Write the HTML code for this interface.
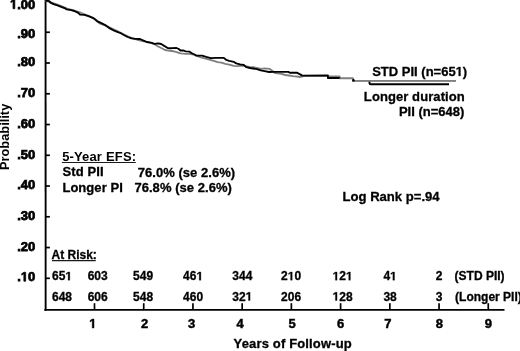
<!DOCTYPE html>
<html><head><meta charset="utf-8"><style>
html,body{margin:0;padding:0;background:#fff;}
body{width:520px;height:351px;overflow:hidden;position:relative;}
svg{position:absolute;left:0;top:0;will-change:transform;}
.s{font-family:"Liberation Sans",sans-serif;font-weight:bold;fill:#000;stroke:#000;stroke-width:0.3px;}
.yl{stroke-width:0.75px;}
.xl{stroke-width:0.45px;}
.pr{stroke-width:0;}
.r{font-family:"Liberation Sans",sans-serif;font-weight:normal;fill:#000;}
</style></head><body>
<svg width="520" height="351" viewBox="0 0 520 351">
<line x1="45.55" y1="0" x2="45.65" y2="310.8" stroke="#000" stroke-width="1.9"/>
<line x1="44.4" y1="309.85" x2="504.5" y2="309.85" stroke="#000" stroke-width="1.9"/>
<line x1="46" y1="32.25" x2="49.9" y2="32.25" stroke="#000" stroke-width="1.7"/>
<line x1="46" y1="63.01" x2="49.9" y2="63.01" stroke="#000" stroke-width="1.7"/>
<line x1="46" y1="93.77" x2="49.9" y2="93.77" stroke="#000" stroke-width="1.7"/>
<line x1="46" y1="124.52" x2="49.9" y2="124.52" stroke="#000" stroke-width="1.7"/>
<line x1="46" y1="155.28" x2="49.9" y2="155.28" stroke="#000" stroke-width="1.7"/>
<line x1="46" y1="186.03" x2="49.9" y2="186.03" stroke="#000" stroke-width="1.7"/>
<line x1="46" y1="216.78" x2="49.9" y2="216.78" stroke="#000" stroke-width="1.7"/>
<line x1="46" y1="247.54" x2="49.9" y2="247.54" stroke="#000" stroke-width="1.7"/>
<line x1="46" y1="278.30" x2="49.9" y2="278.30" stroke="#000" stroke-width="1.7"/>
<line x1="94.50" y1="303.2" x2="94.50" y2="309.5" stroke="#000" stroke-width="1.7"/>
<line x1="143.72" y1="303.2" x2="143.72" y2="309.5" stroke="#000" stroke-width="1.7"/>
<line x1="192.94" y1="303.2" x2="192.94" y2="309.5" stroke="#000" stroke-width="1.7"/>
<line x1="242.16" y1="303.2" x2="242.16" y2="309.5" stroke="#000" stroke-width="1.7"/>
<line x1="291.38" y1="303.2" x2="291.38" y2="309.5" stroke="#000" stroke-width="1.7"/>
<line x1="340.60" y1="303.2" x2="340.60" y2="309.5" stroke="#000" stroke-width="1.7"/>
<line x1="389.82" y1="303.2" x2="389.82" y2="309.5" stroke="#000" stroke-width="1.7"/>
<line x1="439.04" y1="303.2" x2="439.04" y2="309.5" stroke="#000" stroke-width="1.7"/>
<line x1="488.26" y1="303.2" x2="488.26" y2="309.5" stroke="#000" stroke-width="1.7"/>
<text class="s yl" x="35.3" y="8.7" font-size="13" text-anchor="end"> .00</text>
<text class="s yl" x="35.3" y="37.5" font-size="13" text-anchor="end">.90</text>
<text class="s yl" x="35.3" y="65.8" font-size="13" text-anchor="end">.80</text>
<text class="s yl" x="35.3" y="96.8" font-size="13" text-anchor="end">.70</text>
<text class="s yl" x="35.3" y="128.0" font-size="13" text-anchor="end">.60</text>
<text class="s yl" x="35.3" y="158.5" font-size="13" text-anchor="end">.50</text>
<text class="s yl" x="35.3" y="189.2" font-size="13" text-anchor="end">.40</text>
<text class="s yl" x="35.3" y="219.7" font-size="13" text-anchor="end">.30</text>
<text class="s yl" x="35.3" y="250.5" font-size="13" text-anchor="end">.20</text>
<text class="s yl" x="35.3" y="281.2" font-size="13" text-anchor="end">. 0</text>
<text class="s xl" x="92.8" y="328" font-size="13" text-anchor="middle"> </text>
<text class="s xl" x="144.6" y="328" font-size="13" text-anchor="middle">2</text>
<text class="s xl" x="191.7" y="328" font-size="13" text-anchor="middle">3</text>
<text class="s xl" x="240.1" y="328" font-size="13" text-anchor="middle">4</text>
<text class="s xl" x="292.2" y="328" font-size="13" text-anchor="middle">5</text>
<text class="s xl" x="340.6" y="328" font-size="13" text-anchor="middle">6</text>
<text class="s xl" x="387.9" y="328" font-size="13" text-anchor="middle">7</text>
<text class="s xl" x="439.3" y="328" font-size="13" text-anchor="middle">8</text>
<text class="s xl" x="488.4" y="328" font-size="13" text-anchor="middle">9</text>
<text class="s" x="233.6" y="347.8" font-size="13" letter-spacing="0.15">Years of Follow-up</text>
<text class="s pr" transform="translate(9.0,136.9) rotate(-90)" font-size="12.85" text-anchor="middle">Probability</text>
<polyline points="45.5,0.6 49.8,2.1 55.5,4.0 61.3,6.0 67.1,8.7 72.8,10.1 78.6,11.9 82.1,13.3 88.5,15.8 92.8,17.8 95.9,20.4 99.4,23.4 105.8,25.6 111.5,28.3 117.3,31.1 123.1,34.0 128.8,36.9 134.6,38.8 139.2,40.3 146.1,41.9 151.9,43.2 155.0,44.5 158.1,46.5 161.2,48.0 165.0,50.0 168.1,50.6 171.9,51.0 175.0,51.6 178.1,52.6 180.4,53.4 185.8,53.8 189.6,53.8 193.5,54.5 200.7,57.3 208.4,59.3 213.8,60.8 217.6,62.2 221.5,62.7 225.3,63.9 229.2,64.7 233.8,65.9 237.7,66.1 241.5,65.7 245.4,66.1 249.2,66.8 253.1,67.2 256.9,68.0 260.8,68.8 264.6,68.4 269.8,68.9 272.2,70.8 275.2,73.2 281.4,73.8 285.2,75.0 289.1,75.5 292.9,76.2 296.8,76.5 299.8,77.0 304.5,75.9 327.9,75.9 327.9,76.4 339.6,76.4 339.6,78.3 353.0,78.3 353.3,80.8 456.0,80.8" fill="none" stroke="#7f7f7f" stroke-width="1.85" stroke-linejoin="round"/>
<polyline points="45.5,0.6 49.5,1.2 50.5,2.6 53.5,4.1 57.4,5.4 61.2,6.8 65.1,8.3 66.6,9.4 71.2,10.2 74.3,11.0 78.2,12.9 80.0,14.6 84.3,14.8 88.5,16.1 92.8,17.8 95.4,19.5 97.1,21.2 101.4,23.2 104.8,24.8 109.9,28.4 114.2,30.7 118.5,32.4 120.0,32.8 123.8,35.0 127.7,37.0 131.5,38.4 135.4,38.9 140.0,39.0 143.1,40.4 146.9,42.0 150.8,42.7 154.6,43.8 158.1,43.3 161.2,44.0 164.2,45.9 168.1,48.2 171.9,48.2 176.5,48.0 178.8,49.0 180.4,50.5 183.5,50.5 185.8,51.3 189.6,51.7 191.9,53.2 195.0,54.8 196.1,55.6 202.2,55.6 206.1,56.9 210.7,58.1 216.1,57.9 223.8,57.9 226.1,59.8 229.2,60.8 233.8,61.8 236.2,63.4 240.0,64.4 243.8,64.9 246.2,67.2 250.0,68.0 253.1,68.5 256.9,69.1 260.8,70.3 264.6,71.1 269.1,72.0 273.7,71.9 288.3,71.9 289.8,72.7 296.8,72.7 300.6,74.6 302.2,75.6 327.9,75.4 327.9,78.0 339.6,78.0 339.6,78.4" fill="none" stroke="#000" stroke-width="1.85" stroke-linejoin="round"/>
<path d="M369.5,81.5 L369.5,83 Q369.5,84.2 370.7,84.2 L449,84.2" fill="none" stroke="#000" stroke-width="2"/>
<polyline points="339.6,78.3 353.0,78.3 353.3,80.8 456.0,80.8" fill="none" stroke="#808080" stroke-width="1.5" stroke-linejoin="round"/>
<circle cx="353.4" cy="80.4" r="1.3" fill="#000"/>
<text class="s" x="467.2" y="75.9" font-size="13" text-anchor="end">STD PII (n=65 )</text>
<text class="s" x="464.8" y="100.6" font-size="13" text-anchor="end" letter-spacing="0.085">Longer duration</text>
<text class="s" x="464.3" y="115.6" font-size="13" text-anchor="end">PII (n=648)</text>
<text class="s pr" x="62.2" y="160.6" font-size="13" letter-spacing="0.12" word-spacing="0.4">5-Year EFS<tspan dx=" .2">:</tspan></text>
<line x1="61.9" y1="162.5" x2="135.8" y2="162.5" stroke="#1a1a1a" stroke-width="1.1"/>
<text class="s" x="62.4" y="176.4" font-size="13" letter-spacing="0.12">Std PII</text>
<text class="s" x="137.7" y="176.85" font-size="13" letter-spacing="0.04">76.0% (se 2.6%)</text>
<text class="s" x="62.4" y="191.7" font-size="13" letter-spacing="0.05">Longer PI</text>
<text class="s" x="134.4" y="192.2" font-size="13" letter-spacing="0.05">76.8% (se 2.6%)</text>
<text class="s" x="342.5" y="200.5" font-size="13.1">Log Rank p=.94</text>
<text class="s" x="51.5" y="259" font-size="12">At Risk:</text>
<line x1="52" y1="260.6" x2="95.7" y2="260.6" stroke="#1a1a1a" stroke-width="1.1"/>
<text class="s" x="52" y="280.2" font-size="12">65 </text>
<text class="s" x="52" y="300.5" font-size="12">648</text>
<text class="s" x="87.7" y="280.2" font-size="12">603</text>
<text class="s" x="87.7" y="300.5" font-size="12">606</text>
<text class="s" x="133.1" y="280.2" font-size="12">549</text>
<text class="s" x="133.1" y="300.5" font-size="12">548</text>
<text class="s" x="183.1" y="280.2" font-size="12">46 </text>
<text class="s" x="183.1" y="300.5" font-size="12">460</text>
<text class="s" x="232.3" y="280.2" font-size="12">344</text>
<text class="s" x="232.3" y="300.5" font-size="12">32 </text>
<text class="s" x="281.1" y="280.2" font-size="12">2 0</text>
<text class="s" x="281.1" y="300.5" font-size="12">206</text>
<text class="s" x="332.6" y="280.2" font-size="12"> 2 </text>
<text class="s" x="332.6" y="300.5" font-size="12"> 28</text>
<text class="s" x="383.4" y="280.2" font-size="12">4 </text>
<text class="s" x="383.4" y="300.5" font-size="12">38</text>
<text class="s" x="435.8" y="280.2" font-size="12">2</text>
<text class="s" x="435.8" y="300.5" font-size="12">3</text>
<text class="s" x="454.6" y="280.2" font-size="12">(STD PII)</text>
<text class="s" x="455.1" y="300.5" font-size="12">(Longer PII)</text>
<path d="M13.02,8.70 L13.02,1.27 L10.88,2.61 L10.88,1.21 L13.12,-0.24 L14.81,-0.24 L14.81,8.70 Z" fill="#000" stroke="#000" stroke-width="0.75px"/>
<path d="M23.87,281.20 L23.87,273.77 L21.72,275.11 L21.72,273.71 L23.96,272.26 L25.65,272.26 L25.65,281.20 Z" fill="#000" stroke="#000" stroke-width="0.75px"/>
<path d="M92.22,328.00 L92.22,320.57 L90.07,321.91 L90.07,320.51 L92.31,319.06 L94.00,319.06 L94.00,328.00 Z" fill="#000" stroke="#000" stroke-width="0.45px"/>
<path d="M458.67,75.90 L458.67,68.47 L456.53,69.81 L456.53,68.41 L458.77,66.96 L460.46,66.96 L460.46,75.90 Z" fill="#000" stroke="#000" stroke-width="0.3px"/>
<path d="M68.14,280.20 L68.14,273.34 L66.16,274.58 L66.16,273.29 L68.23,271.94 L69.79,271.94 L69.79,280.20 Z" fill="#000" stroke="#000" stroke-width="0.3px"/>
<path d="M199.24,280.20 L199.24,273.34 L197.26,274.58 L197.26,273.29 L199.33,271.94 L200.89,271.94 L200.89,280.20 Z" fill="#000" stroke="#000" stroke-width="0.3px"/>
<path d="M248.44,300.50 L248.44,293.64 L246.46,294.88 L246.46,293.59 L248.53,292.24 L250.09,292.24 L250.09,300.50 Z" fill="#000" stroke="#000" stroke-width="0.3px"/>
<path d="M290.57,280.20 L290.57,273.34 L288.59,274.58 L288.59,273.29 L290.66,271.94 L292.22,271.94 L292.22,280.20 Z" fill="#000" stroke="#000" stroke-width="0.3px"/>
<path d="M335.40,280.20 L335.40,273.34 L333.42,274.58 L333.42,273.29 L335.49,271.94 L337.05,271.94 L337.05,280.20 Z" fill="#000" stroke="#000" stroke-width="0.3px"/>
<path d="M348.74,280.20 L348.74,273.34 L346.76,274.58 L346.76,273.29 L348.83,271.94 L350.39,271.94 L350.39,280.20 Z" fill="#000" stroke="#000" stroke-width="0.3px"/>
<path d="M335.40,300.50 L335.40,293.64 L333.42,294.88 L333.42,293.59 L335.49,292.24 L337.05,292.24 L337.05,300.50 Z" fill="#000" stroke="#000" stroke-width="0.3px"/>
<path d="M392.87,280.20 L392.87,273.34 L390.89,274.58 L390.89,273.29 L392.96,271.94 L394.52,271.94 L394.52,280.20 Z" fill="#000" stroke="#000" stroke-width="0.3px"/>
</svg></body></html>
